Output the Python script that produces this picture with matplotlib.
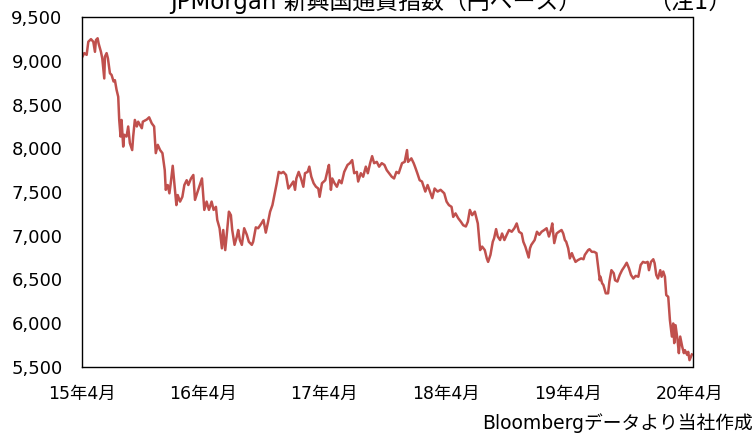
import matplotlib
matplotlib.use("Agg")
import matplotlib.pyplot as plt
import matplotlib.ticker as mticker
import pandas as pd

# JPMorgan 新興国通貨指数（円ベース）: 画像から読み取った値
dates = [
    "2015-04-30", "2015-05-07", "2015-05-14", "2015-05-19", "2015-05-27", "2015-06-03",
    "2015-06-08", "2015-06-11", "2015-06-16", "2015-06-19", "2015-06-26", "2015-06-30",
    "2015-07-06", "2015-07-08", "2015-07-13", "2015-07-17", "2015-07-23", "2015-07-28",
    "2015-08-03", "2015-08-07", "2015-08-12", "2015-08-17", "2015-08-20", "2015-08-24",
    "2015-08-27", "2015-09-01", "2015-09-04", "2015-09-11", "2015-09-16", "2015-09-21",
    "2015-09-28", "2015-10-01", "2015-10-06", "2015-10-12", "2015-10-16", "2015-10-27",
    "2015-10-30", "2015-11-11", "2015-11-18", "2015-11-26", "2015-12-03", "2015-12-08",
    "2015-12-14", "2015-12-21", "2015-12-28", "2016-01-04", "2016-01-07", "2016-01-13",
    "2016-01-18", "2016-01-22", "2016-01-28", "2016-02-02", "2016-02-08", "2016-02-12",
    "2016-02-19", "2016-02-26", "2016-03-03", "2016-03-10", "2016-03-15", "2016-03-23",
    "2016-03-30", "2016-04-04", "2016-04-12", "2016-04-25", "2016-05-02", "2016-05-09",
    "2016-05-16", "2016-05-24", "2016-05-30", "2016-06-06", "2016-06-10", "2016-06-17",
    "2016-06-24", "2016-06-28", "2016-07-04", "2016-07-08", "2016-07-15", "2016-07-21",
    "2016-07-25", "2016-08-01", "2016-08-08", "2016-08-12", "2016-08-17", "2016-08-23",
    "2016-08-30", "2016-09-07", "2016-09-13", "2016-09-22", "2016-09-26", "2016-10-04",
    "2016-10-11", "2016-10-20", "2016-10-27", "2016-11-03", "2016-11-09", "2016-11-16",
    "2016-11-23", "2016-11-29", "2016-12-06", "2016-12-12", "2016-12-19", "2016-12-26",
    "2017-01-03", "2017-01-10", "2017-01-18", "2017-01-25", "2017-01-30", "2017-02-03",
    "2017-02-10", "2017-02-17", "2017-02-24", "2017-03-01", "2017-03-09", "2017-03-14",
    "2017-03-20", "2017-03-27", "2017-04-03", "2017-04-10", "2017-04-14", "2017-04-21",
    "2017-05-01", "2017-05-08", "2017-05-12", "2017-05-18", "2017-05-22", "2017-05-29",
    "2017-06-05", "2017-06-12", "2017-06-19", "2017-06-27", "2017-07-07", "2017-07-14",
    "2017-07-21", "2017-07-27", "2017-08-04", "2017-08-08", "2017-08-16", "2017-08-23",
    "2017-08-31", "2017-09-06", "2017-09-13", "2017-09-19", "2017-09-25", "2017-10-03",
    "2017-10-10", "2017-10-18", "2017-10-26", "2017-11-02", "2017-11-09", "2017-11-17",
    "2017-11-24", "2017-12-01", "2017-12-08", "2017-12-18", "2017-12-26", "2018-01-02",
    "2018-01-05", "2018-01-15", "2018-01-22", "2018-01-26", "2018-02-02", "2018-02-09",
    "2018-02-16", "2018-02-26", "2018-03-05", "2018-03-12", "2018-03-19", "2018-03-26",
    "2018-04-04", "2018-04-13", "2018-04-24", "2018-05-01", "2018-05-08", "2018-05-16",
    "2018-05-21", "2018-05-28", "2018-06-05", "2018-06-13", "2018-06-20", "2018-06-28",
    "2018-07-04", "2018-07-10", "2018-07-17", "2018-07-25", "2018-07-30", "2018-08-03",
    "2018-08-10", "2018-08-16", "2018-08-24", "2018-08-30", "2018-09-03", "2018-09-10",
    "2018-09-17", "2018-09-21", "2018-09-27", "2018-10-02", "2018-10-09", "2018-10-15",
    "2018-10-22", "2018-10-29", "2018-11-05", "2018-11-13", "2018-11-21", "2018-11-28",
    "2018-12-05", "2018-12-13", "2018-12-18", "2018-12-24", "2019-01-03", "2019-01-07",
    "2019-01-11", "2019-01-21", "2019-01-28", "2019-02-04", "2019-02-11", "2019-02-19",
    "2019-02-26", "2019-03-05", "2019-03-11", "2019-03-15", "2019-03-21", "2019-03-28",
    "2019-04-04", "2019-04-12", "2019-04-17", "2019-04-22", "2019-04-26", "2019-05-02",
    "2019-05-07", "2019-05-13", "2019-05-17", "2019-05-24", "2019-05-31", "2019-06-10",
    "2019-06-17", "2019-06-21", "2019-07-01", "2019-07-05", "2019-07-12", "2019-07-19",
    "2019-07-26", "2019-08-05", "2019-08-07", "2019-08-12", "2019-08-16", "2019-08-23",
    "2019-08-30", "2019-09-03", "2019-09-09", "2019-09-16", "2019-09-20", "2019-09-27",
    "2019-10-04", "2019-10-11", "2019-10-18", "2019-10-25", "2019-11-01", "2019-11-07",
    "2019-11-14", "2019-11-21", "2019-11-29", "2019-12-06", "2019-12-13", "2019-12-20",
    "2019-12-27", "2019-12-31", "2020-01-06", "2020-01-13", "2020-01-17", "2020-01-22",
    "2020-01-27", "2020-02-03", "2020-02-07", "2020-02-12", "2020-02-17", "2020-02-21",
    "2020-02-27", "2020-03-03", "2020-03-09", "2020-03-13", "2020-03-16", "2020-03-20",
    "2020-03-26", "2020-03-30", "2020-04-03", "2020-04-09", "2020-04-14", "2020-04-17",
    "2020-04-24", "2020-04-27", "2020-05-01", "2020-05-08",
]
index_values = [
    9040, 9090, 9070, 9220, 9250, 9220,
    9105, 9240, 9260, 9200, 9105, 9030,
    8800, 9050, 9090, 9030, 8860, 8840,
    8765, 8780, 8670, 8590, 8325, 8135,
    8325, 8020, 8155, 8135, 8250, 8060,
    7980, 8135, 8325, 8250, 8305, 8230,
    8305, 8330, 8355, 8285, 8250, 7945,
    8040, 7980, 7945, 7750, 7525, 7580,
    7485, 7600, 7800, 7600, 7350, 7465,
    7390, 7445, 7580, 7635, 7580, 7655,
    7695, 7410, 7505, 7655, 7295, 7390,
    7295, 7390, 7295, 7330, 7180, 7085,
    6855, 7065, 6835, 6990, 7275, 7235,
    7065, 6895, 6990, 7065, 6950, 6895,
    7085, 7010, 6930, 6895, 6930, 7095,
    7085, 7135, 7180, 7035, 7140, 7275,
    7350, 7465, 7600, 7730, 7715, 7730,
    7695, 7540, 7580, 7620, 7525, 7655,
    7730, 7655, 7560, 7715, 7730, 7790,
    7675, 7600, 7560, 7540, 7445, 7600,
    7635, 7750, 7810, 7525, 7655, 7600,
    7560, 7635, 7600, 7730, 7810, 7830,
    7865, 7715, 7730, 7620, 7715, 7675,
    7790, 7715, 7830, 7910, 7830, 7845,
    7790, 7830, 7810, 7750, 7715, 7675,
    7655, 7730, 7715, 7830, 7845, 7980,
    7845, 7885, 7830, 7790, 7715, 7635,
    7620, 7505, 7580, 7505, 7430, 7540,
    7505, 7525, 7485, 7390, 7350, 7330,
    7215, 7255, 7200, 7160, 7120, 7105,
    7160, 7295, 7235, 7275, 7200, 7140,
    6835, 6875, 6835, 6740, 6700, 6780,
    6930, 6970, 7075, 6990, 6950, 7025,
    6950, 7010, 7065, 7045, 7085, 7140,
    7045, 7025, 6930, 6875, 6750, 6855,
    6895, 6950, 7045, 7010, 7045, 7065,
    7085, 6990, 7065, 7140, 6915, 7025,
    7045, 7065, 7025, 6950, 6930, 6855,
    6740, 6800, 6760, 6700, 6720, 6740,
    6730, 6780, 6835, 6845, 6815, 6815,
    6800, 6490, 6530, 6455, 6435, 6340,
    6340, 6475, 6605, 6570, 6490, 6475,
    6550, 6605, 6645, 6690, 6625, 6550,
    6510, 6540, 6530, 6665, 6700, 6690,
    6700, 6605, 6700, 6730, 6685, 6550,
    6510, 6605, 6530, 6590, 6530, 6320,
    6300, 6035, 5845, 5995, 5770, 5975,
    5805, 5655, 5845, 5730, 5655, 5690,
    5635, 5670, 5575, 5640,
]

tick_dates = ["2015-04-30", "2016-04-29", "2017-04-28", "2018-04-30", "2019-04-30", "2020-04-30"]
tick_labels = ["15年4月", "16年4月", "17年4月", "18年4月", "19年4月", "20年4月"]

jp_font = ["DejaVu Sans", "Noto Sans CJK JP"]

fig = plt.figure(figsize=(7.56, 4.34), dpi=100)
ax = fig.add_axes([82 / 756, 1 - 366.7 / 434, 610.5 / 756, 349.4 / 434])

x = pd.to_datetime(dates)
ax.plot(x, index_values, color="#C0504D", linewidth=1.8)

ax.set_xlim(pd.Timestamp("2015-04-30"), pd.Timestamp("2020-05-10"))
ax.set_ylim(5500, 9500)
ax.yaxis.set_major_locator(mticker.MultipleLocator(500))
ax.yaxis.set_major_formatter(mticker.StrMethodFormatter("{x:,.0f}"))
ax.set_xticks(pd.to_datetime(tick_dates))
ax.set_xticklabels(tick_labels, family=jp_font, fontsize=12.5)
ax.tick_params(axis="y", length=0, pad=14, labelsize=13)
ax.tick_params(axis="x", length=0, pad=13)

for s in ax.spines.values():
    s.set_color("black")
    s.set_linewidth(1.0)

# 元の図でも上端で切れている見出し
fig.text(376 / 756, 1 - 2 / 434, "JPMorgan 新興国通貨指数（円ベース）",
         ha="center", va="center", fontsize=16.5, family=jp_font)
fig.text(648 / 756, 1 - 2 / 434, "（注1）", ha="left", va="center",
         fontsize=16.5, family=jp_font)
fig.text(753 / 756, 1 - 423 / 434, "Bloombergデータより当社作成",
         ha="right", va="center", fontsize=13.5, family=jp_font)

fig.savefig("out.png", dpi=100)
